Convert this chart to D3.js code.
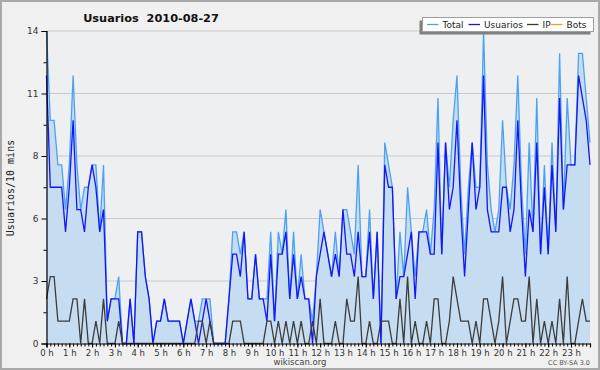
<!DOCTYPE html>
<html>
<head>
<meta charset="utf-8">
<script src="https://cdn.jsdelivr.net/npm/d3@7"></script>
<style>
  body { margin: 0; background: #f0f0f0; }
  text { font-family: "DejaVu Sans", sans-serif; }
</style>
</head>
<body>
<svg id="chart"></svg>
<script>
// values per 10 minutes, 144 slots from 0:00 to 23:50
const total = [14,10,10,8,8,6,8,12,8,6,7,7,8,8,5,8,1,2,2,3,0,0,2,0,
  5,5,3,2,0,1,1,2,1,1,1,1,0,1,2,1,1,2,2,2,0,0,0,0,
  2,5,5,4,5,2,2,4,2,2,2,5,1,5,4,6,2,5,2,4,2,2,1,3,
  6,5,4,3,5,3,6,6,5,4,8,3,3,6,2,5,0,9,8,7,2,5,3,7,
  5,3,5,5,6,4,6,11,4,9,7,10,12,7,4,7,9,7,7,14,8,6,5,6,
  10,7,6,8,12,7,4,9,5,11,4,8,4,9,5,13,6,11,8,8,13,13,11,9];
const usuarios = [12,7,7,7,7,5,7,10,6,6,5,7,8,7,5,6,1,2,2,2,0,0,2,0,
  5,5,3,2,0,1,1,2,1,1,1,1,0,1,2,1,0,1,2,1,0,0,0,0,
  2,4,4,3,5,2,2,4,2,2,1,4,1,4,4,5,2,4,2,3,2,2,0,3,
  4,5,4,3,4,3,6,4,4,3,5,3,3,5,2,5,0,8,7,7,2,3,3,4,
  5,2,5,5,5,4,4,9,4,9,6,7,10,6,3,6,9,6,7,12,6,5,5,5,
  7,7,5,6,10,6,3,6,5,9,4,7,4,8,5,11,6,8,8,8,12,11,10,8];
const ip = [2,3,3,1,1,1,1,2,2,0,2,0,0,1,0,2,0,0,0,1,0,0,0,0,
  0,0,0,0,0,0,0,0,0,0,0,0,0,0,0,0,1,1,0,1,0,0,0,0,
  0,1,1,1,0,0,0,0,0,0,1,1,0,1,0,1,0,1,0,1,0,0,1,0,
  2,0,0,0,1,0,0,2,1,1,3,0,0,1,0,0,1,1,1,0,0,2,0,3,
  0,1,0,0,1,0,2,2,0,0,1,3,2,1,1,1,0,1,0,2,2,1,0,1,
  3,0,1,2,2,1,1,3,0,2,0,1,0,1,0,2,0,3,0,0,1,2,1,1];

const hourLabels = ["0 h","1 h","2 h","3 h","4 h","5 h","6 h","7 h","8 h","9 h","10 h","11 h",
  "12 h","13 h","14 h","15 h","16 h","17 h","18 h","19 h","20 h","21 h","22 h","23 h"];
const yTicks = [0, 2.8, 5.6, 8.4, 11.2, 14];
const yTickLabels = ["0", "3", "6", "8", "11", "14"];
const seriesNames = ["Total", "Usuarios", "IP", "Bots"];
const seriesColors = ["#4aa2f4", "#1515f5", "#3c3c3c", "#ff9a1a"];

let width = 600,
  height = 370;
let margin = { top: 31, bottom: 26.5, left: 46.5, right: 10 };

let svg = d3.select("#chart").attr("width", width).attr("height", height);

// background + frame
svg.append("rect").attr("x", 1).attr("y", 1).attr("width", width - 2).attr("height", height - 2)
  .attr("fill", "#f0f0f0").attr("stroke", "#a9a9a9").attr("stroke-width", 2);

let xScale = d3.scaleLinear().domain([0, total.length - 1]).range([margin.left, width - margin.right]);
let yScale = d3.scaleLinear().domain([0, 14]).range([height - margin.bottom, margin.top]);

svg.append("rect")
  .attr("x", margin.left).attr("y", margin.top)
  .attr("width", width - margin.right - margin.left)
  .attr("height", height - margin.bottom - margin.top)
  .attr("fill", "#eeeff1");

// grid
svg.selectAll(".grid")
  .data(yTicks.slice(1))
  .enter()
  .append("line")
  .attr("class", "grid")
  .attr("x1", margin.left).attr("x2", width - margin.right)
  .attr("y1", (d) => yScale(d)).attr("y2", (d) => yScale(d))
  .attr("stroke", "#c9c9cb").attr("stroke-width", 1);

let idx = d3.range(total.length);

svg.append("path")
  .datum(idx)
  .attr("fill", "#c6dcf0")
  .attr("d", d3.area().x((i) => xScale(i)).y0(yScale(0)).y1((i) => yScale(total[i])));

let line = (arr) => d3.line().x((i) => xScale(i)).y((i) => yScale(arr[i]));

[total, usuarios, ip].forEach(function (arr, k) {
  svg.append("path")
    .datum(idx)
    .attr("fill", "none")
    .attr("stroke", seriesColors[k])
    .attr("stroke-width", 1.3)
    .attr("stroke-linejoin", "miter")
    .attr("d", line(arr));
});

// y axis
let yAxis = svg.append("g")
  .attr("transform", `translate(${margin.left}, 0)`)
  .call(d3.axisLeft(yScale).tickValues(yTicks).tickSize(5).tickFormat((d, i) => yTickLabels[i]));
svg.append("g")
  .attr("transform", `translate(${margin.left}, 0)`)
  .call(d3.axisLeft(yScale).tickValues(yTicks.slice(1).map((d) => d - 1.4)).tickSize(3).tickFormat(""))
  .select(".domain").remove();

// x axis
let xAxis = svg.append("g")
  .attr("transform", `translate(0, ${yScale(0)})`)
  .call(d3.axisBottom(xScale).tickValues(hourLabels.map((d, i) => i * 6)).tickSize(4).tickPadding(2)
    .tickFormat((d, i) => hourLabels[i]));
svg.append("g")
  .attr("transform", `translate(0, ${yScale(0)})`)
  .call(d3.axisBottom(xScale).tickValues(idx).tickSize(3).tickFormat(""))
  .select(".domain").remove();

svg.selectAll(".domain").attr("stroke", "#000").attr("stroke-width", 1.2);
svg.selectAll(".tick line").attr("stroke", "#000");
yAxis.selectAll("text").attr("font-size", "9px").attr("fill", "#333").attr("font-family", "DejaVu Sans");
xAxis.selectAll("text").attr("font-size", "8.5px").attr("fill", "#333").attr("font-family", "DejaVu Sans");

// title & labels
svg.append("text")
  .attr("x", 151).attr("y", 22)
  .attr("text-anchor", "middle")
  .attr("font-size", "11.3px").attr("font-weight", "bold").attr("fill", "#111")
  .style("white-space", "pre")
  .text("Usuarios  2010-08-27");

svg.append("text")
  .attr("transform", "translate(14, 188) rotate(-90)")
  .attr("text-anchor", "middle")
  .attr("font-size", "10px").attr("fill", "#222")
  .style("font-family", "DejaVu Sans Mono")
  .text("Usuarios/10 mins");

svg.append("text")
  .attr("x", 300).attr("y", 365)
  .attr("text-anchor", "middle")
  .attr("font-size", "8.5px").attr("fill", "#444")
  .text("wikiscan.org");

svg.append("text")
  .attr("x", 590).attr("y", 365)
  .attr("text-anchor", "end")
  .attr("font-size", "6.5px").attr("fill", "#555")
  .text("CC BY-SA 3.0");

// legend
let lg = svg.append("g");
lg.append("rect").attr("x", 419.5).attr("y", 20.5).attr("width", 171).attr("height", 14).attr("fill", "#808080");
lg.append("rect").attr("x", 422.5).attr("y", 17.5).attr("width", 171).attr("height", 14)
  .attr("fill", "#fff").attr("stroke", "#a0a0a0");
let legendX = [427, 468.5, 527, 551];
seriesNames.forEach(function (name, k) {
  lg.append("line")
    .attr("x1", legendX[k]).attr("x2", legendX[k] + 11.5)
    .attr("y1", 24.5).attr("y2", 24.5)
    .attr("stroke", seriesColors[k]).attr("stroke-width", 1.3);
  lg.append("text")
    .attr("x", legendX[k] + 15.5).attr("y", 28)
    .attr("font-size", "9px").attr("fill", "#222")
    .text(name);
});
</script>
</body>
</html>
